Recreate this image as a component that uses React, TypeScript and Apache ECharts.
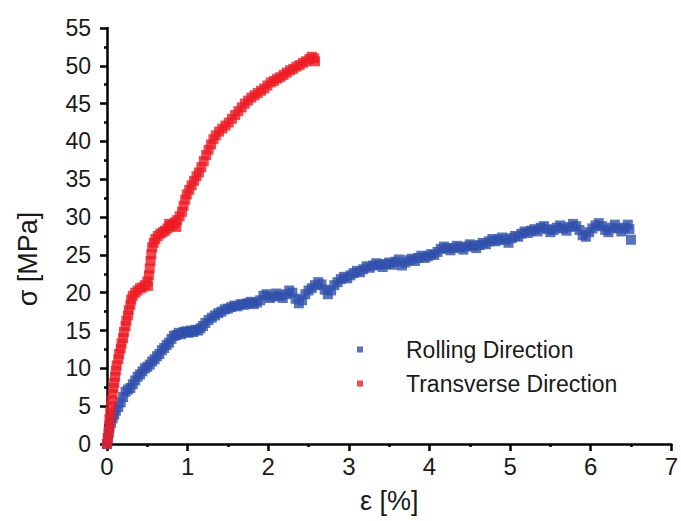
import React, { useEffect, useRef } from "react";
import * as echarts from "echarts";

const xTicks = [0, 1, 2, 3, 4, 5, 6, 7];
const yTicks = [0, 5, 10, 15, 20, 25, 30, 35, 40, 45, 50, 55];

const rollingName = "Rolling Direction";
const transverseName = "Transverse Direction";
const xName = "ε [%]";
const yName = "σ [MPa]";

const transverse: number[][] = [
  [0.0, 0.0], [0.01, 0.8], [0.02, 1.6], [0.03, 2.5], [0.03, 3.3], [0.04, 4.1], [0.05, 5.0], [0.06, 5.8],
  [0.07, 6.6], [0.08, 7.4], [0.09, 8.1], [0.1, 8.9], [0.11, 9.7], [0.12, 10.4], [0.14, 11.2], [0.15, 11.9],
  [0.17, 12.6], [0.18, 13.3], [0.2, 14.0], [0.21, 14.8], [0.23, 15.6], [0.24, 16.3], [0.26, 17.0], [0.27, 17.7],
  [0.29, 18.4], [0.3, 19.1], [0.32, 19.6], [0.35, 20.0], [0.38, 20.3], [0.41, 20.6], [0.44, 20.7], [0.47, 21.0],
  [0.5, 21.5], [0.51, 20.9], [0.52, 22.3], [0.53, 23.2], [0.54, 24.2], [0.55, 25.1], [0.56, 26.0], [0.58, 26.6],
  [0.6, 27.1], [0.63, 27.5], [0.66, 27.8], [0.69, 28.0], [0.72, 28.2], [0.75, 28.5], [0.77, 29.1], [0.78, 28.8],
  [0.81, 29.0], [0.84, 29.3], [0.86, 28.7], [0.87, 29.6], [0.9, 30.1], [0.93, 30.7], [0.95, 31.5], [0.97, 32.3],
  [0.99, 33.0], [1.02, 33.6], [1.05, 34.2], [1.08, 34.8], [1.11, 35.4], [1.14, 35.9], [1.17, 36.6], [1.2, 37.4],
  [1.23, 38.2], [1.26, 38.9], [1.29, 39.6], [1.32, 40.3], [1.35, 40.8], [1.39, 41.3], [1.43, 41.7], [1.47, 42.1],
  [1.51, 42.5], [1.55, 43.0], [1.59, 43.5], [1.63, 44.0], [1.67, 44.5], [1.71, 45.0], [1.75, 45.4], [1.79, 45.8],
  [1.83, 46.1], [1.87, 46.4], [1.91, 46.7], [1.95, 47.0], [1.99, 47.4], [2.03, 47.8], [2.07, 48.0], [2.11, 48.3],
  [2.15, 48.5], [2.19, 48.8], [2.23, 49.1], [2.27, 49.4], [2.31, 49.6], [2.35, 49.9], [2.39, 50.1], [2.43, 50.4],
  [2.47, 50.6], [2.51, 50.9], [2.54, 51.2], [2.57, 51.0], [2.58, 50.6],
];

const rolling: number[][] = [
  [0.0, 0.0], [0.01, 0.7], [0.02, 1.4], [0.03, 2.1], [0.05, 2.8], [0.07, 3.4], [0.09, 3.9], [0.11, 4.4],
  [0.14, 4.9], [0.17, 5.5], [0.2, 6.2], [0.23, 6.9], [0.26, 7.2], [0.29, 7.4], [0.32, 7.9], [0.35, 8.4],
  [0.38, 8.9], [0.41, 9.2], [0.44, 9.6], [0.47, 10.0], [0.5, 10.2], [0.53, 10.5], [0.56, 10.9], [0.59, 11.2],
  [0.62, 11.6], [0.65, 11.9], [0.68, 12.4], [0.71, 12.7], [0.74, 13.1], [0.77, 13.4], [0.8, 13.9], [0.83, 14.3],
  [0.86, 14.4], [0.89, 14.7], [0.92, 14.5], [0.95, 14.8], [0.98, 14.9], [1.01, 14.7], [1.04, 15.0], [1.07, 14.8],
  [1.1, 15.1], [1.13, 15.0], [1.16, 15.3], [1.19, 15.6], [1.22, 16.0], [1.26, 16.4], [1.3, 16.7], [1.34, 17.0],
  [1.38, 17.3], [1.42, 17.5], [1.46, 17.8], [1.5, 17.9], [1.54, 18.1], [1.58, 18.3], [1.62, 18.2], [1.66, 18.5],
  [1.7, 18.4], [1.74, 18.6], [1.78, 18.8], [1.82, 18.5], [1.86, 18.7], [1.9, 19.0], [1.94, 19.6], [1.98, 19.8],
  [2.02, 19.3], [2.06, 19.5], [2.1, 19.9], [2.14, 19.6], [2.18, 19.3], [2.22, 19.8], [2.26, 20.3], [2.3, 20.0],
  [2.34, 19.2], [2.38, 18.6], [2.42, 19.0], [2.46, 19.8], [2.5, 20.3], [2.54, 20.6], [2.58, 21.0], [2.62, 21.4],
  [2.66, 21.1], [2.7, 20.4], [2.74, 19.8], [2.78, 20.3], [2.82, 21.0], [2.86, 21.4], [2.9, 21.8], [2.94, 22.1],
  [2.98, 21.9], [3.02, 22.3], [3.06, 22.6], [3.1, 22.9], [3.14, 22.7], [3.18, 23.1], [3.22, 23.5], [3.26, 23.3],
  [3.3, 23.6], [3.34, 23.9], [3.38, 23.7], [3.42, 23.4], [3.46, 23.8], [3.5, 24.0], [3.54, 23.7], [3.58, 24.1],
  [3.62, 24.4], [3.66, 23.6], [3.7, 24.0], [3.74, 24.3], [3.78, 24.5], [3.82, 24.2], [3.86, 24.6], [3.9, 24.9],
  [3.94, 24.6], [3.98, 24.8], [4.02, 25.1], [4.06, 25.0], [4.1, 25.4], [4.14, 25.8], [4.18, 26.1], [4.22, 25.9],
  [4.26, 25.6], [4.3, 25.9], [4.34, 26.2], [4.38, 26.0], [4.42, 25.7], [4.46, 26.1], [4.5, 26.4], [4.54, 26.2],
  [4.58, 25.9], [4.62, 26.3], [4.66, 26.6], [4.7, 26.4], [4.74, 26.8], [4.78, 27.1], [4.82, 26.8], [4.86, 27.0],
  [4.9, 27.3], [4.94, 27.0], [4.98, 26.6], [5.02, 27.2], [5.06, 27.5], [5.1, 27.4], [5.14, 27.8], [5.18, 28.1],
  [5.22, 27.9], [5.26, 28.2], [5.3, 28.4], [5.34, 28.1], [5.38, 28.6], [5.42, 28.8], [5.46, 28.4], [5.5, 28.0],
  [5.54, 28.3], [5.58, 28.6], [5.62, 28.9], [5.66, 28.5], [5.7, 28.2], [5.74, 28.7], [5.78, 29.1], [5.82, 28.8],
  [5.86, 28.3], [5.9, 27.6], [5.94, 27.4], [5.98, 28.0], [6.02, 28.5], [6.06, 28.9], [6.1, 29.2], [6.14, 28.8],
  [6.18, 28.3], [6.22, 28.0], [6.26, 28.6], [6.3, 29.0], [6.34, 28.5], [6.38, 28.1], [6.42, 28.6], [6.46, 29.0],
  [6.48, 28.4], [6.5, 27.0],
];

const BLUE = "#3050ad";
const RED = "#ee1c24";
const FONT = "'Liberation Sans', Arial, sans-serif";
const TEXT = "#1a1a1a";

export default function App() {
  const ref = useRef<HTMLDivElement>(null);
  useEffect(() => {
    if (!ref.current) return;
    const chart = echarts.init(ref.current, undefined, { renderer: "svg" });
    chart.setOption({
      animation: false,
      backgroundColor: "#ffffff",
      textStyle: { fontFamily: FONT },
      grid: { left: 107, top: 28, width: 570, height: 416, containLabel: false },
      legend: {
        orient: "vertical",
        left: 352,
        top: 333,
        itemWidth: 6,
        itemHeight: 6,
        itemGap: 11,
        icon: "rect",
        data: [rollingName, transverseName],
        textStyle: { fontSize: 23, color: TEXT, fontFamily: FONT, padding: [0, 0, 0, 38] },
      },
      graphic: [
        {
          type: "text",
          x: 28,
          y: 259,
          rotation: Math.PI / 2,
          style: {
            text: yName,
            fontSize: 27,
            fontFamily: FONT,
            fill: TEXT,
            align: "center",
            verticalAlign: "middle",
          },
        },
      ],
      xAxis: {
        type: "value",
        min: 0,
        max: 7,
        interval: 1,
        name: xName,
        nameLocation: "middle",
        nameGap: 43,
        nameTextStyle: { fontSize: 27, color: TEXT, fontFamily: FONT },
        axisLine: { show: true, onZero: false, lineStyle: { color: "#000", width: 2.5 } },
        axisTick: { show: true, inside: false, length: 7, lineStyle: { color: "#000", width: 2.5 } },
        minorTick: { show: true, splitNumber: 2, length: 3, lineStyle: { color: "#000", width: 2.5 } },
        splitLine: { show: false },
        axisLabel: {
          fontSize: 24,
          color: TEXT,
          margin: 10,
          fontFamily: FONT,
          formatter: (v: number) => (xTicks.includes(v) ? String(v) : ""),
        },
      },
      yAxis: {
        type: "value",
        min: 0,
        max: 55,
        interval: 5,
        axisLine: { show: true, onZero: false, lineStyle: { color: "#000", width: 2.5 } },
        axisTick: { show: true, inside: false, length: 7, lineStyle: { color: "#000", width: 2.5 } },
        minorTick: { show: true, splitNumber: 2, length: 3, lineStyle: { color: "#000", width: 2.5 } },
        splitLine: { show: false },
        axisLabel: {
          fontSize: 23,
          color: TEXT,
          margin: 16,
          fontFamily: FONT,
          formatter: (v: number) => (yTicks.includes(v) ? String(v) : ""),
        },
      },
      series: [
        {
          name: rollingName,
          type: "scatter",
          data: rolling,
          symbol: "rect",
          symbolSize: 10,
          itemStyle: { color: BLUE },
          z: 2,
        },
        {
          name: transverseName,
          type: "scatter",
          data: transverse,
          symbol: "rect",
          symbolSize: 10,
          itemStyle: { color: RED },
          z: 3,
        },
      ],
    });
    return () => chart.dispose();
  }, []);
  return <div ref={ref} style={{ width: 681, height: 521, position: "absolute", left: 0, top: 0 }} />;
}
